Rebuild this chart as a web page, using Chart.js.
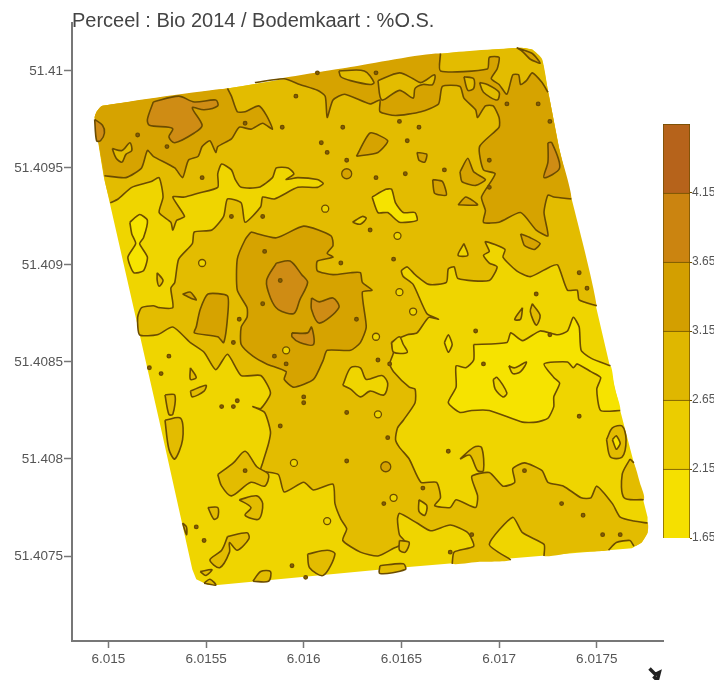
<!DOCTYPE html>
<html>
<head>
<meta charset="utf-8">
<title>Bodemkaart</title>
<script src="https://cdn.jsdelivr.net/npm/chart.js@4/dist/chart.umd.min.js"></script>
<style>
  html, body { margin: 0; background: #fff; overflow: hidden; }
  canvas { position: absolute; filter: blur(0.5px); }
  #kaart { left: 0; top: 0; }
  #legenda { left: 650px; top: 100px; }
</style>
</head>
<body>
<canvas id="kaart" width="714" height="680"></canvas>
<canvas id="legenda" width="64" height="460"></canvas>
<script>
// Points are [lon, lat] in 1e-5 degrees above 6.01 / 51.40.
// A third item 1 means the point lies on the field edge, so no contour is drawn there.
const titel = "Perceel : Bio 2014 / Bodemkaart : %O.S.";
const lonTicks = [6.015, 6.0155, 6.016, 6.0165, 6.017, 6.0175];
const latTicks = [51.4075, 51.408, 51.4085, 51.409, 51.4095, 51.41];
const levels = [1.65, 2.15, 2.65, 3.15, 3.65, 4.15, 4.65];
const bandColors = ["#f5e000", "#ebcd00", "#dfb700", "#d39f00", "#cb8410", "#b6631b"];
const fieldColors = ["#f6e300", "#efd500", "#e3bc00", "#d6a300", "#cf8c14"];

const fieldEdge = [[493,976],[494,979],[497,982],[561,991],[671,1009],[711,1012],[717,1011],[722,1006],[725,990],[731,959],[762,825],[769,798],[776,770],[776,762],[773,757],[768,754],[649,744],[556,735],[551,735],[545,738],[543,743],[526,820],[498,944]];

const band3Main = [[501,932],[505,934],[512,940],[522,943],[526,945],[528,935],[526,927],[532,922],[533,918],[535,923],[539,925],[533,935],[539,935],[546,937],[556,940],[556,947],[558,952],[563,949],[565,944],[568,940],[577,940],[584,945],[586,950],[592,950],[595,947],[591,944],[597,945],[607,944],[610,942],[607,940],[597,940],[585,934],[579,935],[578,930],[570,922],[568,932],[561,934],[559,925],[553,918],[544,917],[543,911],[536,903],[534,891],[532,888],[533,878],[526,878],[523,879],[517,878],[515,873],[516,864],[525,864],[533,868],[542,860],[549,855],[555,846],[561,854],[568,843],[578,843],[583,834],[578,826],[574,827],[580,824],[583,814],[582,808],[579,798],[578,794],[587,792],[590,783],[600,788],[605,784],[615,787],[616,777],[619,769],[622,764],[620,758],[629,752],[638,750],[646,754],[652,757],[649,761],[648,769],[649,772],[658,767],[665,763],[675,766],[684,762],[687,755],[677,752],[676,746],[690,747,1],[706,748],[695,756],[707,770],[712,762],[723,756],[723,750],[739,752,1],[756,753],[760,757],[767,758],[769,755],[773,757,1],[776,762,1],[776,767],[769,768],[762,770],[758,777],[750,786],[747,780],[742,780],[733,786],[725,788],[722,794],[713,798],[707,795],[708,788],[702,786],[695,793],[686,791],[689,781],[688,775],[678,779],[675,775],[667,776],[670,780],[668,788],[660,788],[654,800],[649,806],[647,810],[648,816],[651,820],[657,829],[657,836],[654,837],[646,845],[644,849],[646,855],[645,860],[653,864],[658,865],[664,873],[669,872],[663,875],[656,890],[651,894],[650,897],[653,899],[657,895],[664,890],[673,891],[674,898],[677,899],[679,893],[695,892],[699,899],[695,901],[692,905],[695,907],[693,912],[703,908],[702,904],[709,897],[716,894],[726,899],[730,900],[735,887],[740,887],[741,882],[750,879],[731,959,1],[725,990,1],[722,1006,1],[717,1011,1],[711,1012,1],[671,1009,1],[561,991,1],[497,982,1],[494,979,1],[493,976,1],[498,944,1]];

const band3Islands = [
  [[556,792],[564,798],[570,804],[576,796],[582,792],[580,786],[573,788],[563,781],[558,786]],
  [[567,779],[576,781],[579,777],[577,769],[570,771],[573,775]],
  [[551,775],[556,775],[556,770],[554,769]],
  [[529,820],[537,821],[538,810],[534,800],[531,805]],
  [[561,760],[571,762],[572,759],[566,753],[562,757],[562,752],[557,744],[552,748],[558,753]],
  [[547,742],[553,743],[550,740]],
  [[574,737],[578,742],[583,742],[582,737]],
  [[549,736],[552,738],[555,735]],
  [[602,751],[612,753],[616,751],[610,740],[603,744]],
  [[639,745],[651,746],[652,743],[639,741]],
  [[542,847],[545,842],[542,841]],
  [[542,835],[550,838],[549,835],[543,832]],
  [[525,896],[528,892],[526,889],[525,892]],
  [[529,833],[534,833],[533,823],[531,823]],
  [[538,767],[540,765],[540,761]],
  [[649,758],[654,757],[652,752],[649,753]],
  [[680,800],[687,806],[691,806],[692,794],[689,794],[685,802]],
  [[755,810],[758,816],[763,817],[765,810],[763,801],[757,801]],
  [[767,800],[769,798],[772,788,1],[774,779],[764,780],[763,792]]
];

const band2Holes = [
  [[620,838],[624,847],[629,847],[632,841],[640,843],[643,839],[641,833],[634,835],[629,832],[624,836]],
  [[625,922],[630,925],[632,924],[629,921]],
  [[645,860],[649,863],[651,859],[653,855],[646,855]],
  [[659,779],[663,776],[662,771],[659,773]],
  [[682,911],[684,905],[679,905]]
];

const band1Blobs = [
  [[511,922],[516,926],[520,923],[518,914],[516,911],[520,904],[518,897],[513,896],[510,904],[514,911],[512,916]],
  [[635,935],[642,939],[645,939],[647,932],[651,927],[657,927],[658,923],[649,922],[643,927],[638,927]],
  [[687,859],[704,860],[706,865],[712,861],[721,866],[730,864],[735,866],[738,873],[741,868],[742,856],[747,852],[757,848],[759,837,1],[762,825],[752,825],[750,836],[752,842],[747,845],[740,849],[738,847],[735,850],[723,849],[728,842],[731,839],[728,832],[728,827],[725,821],[719,819],[712,819],[695,825],[686,825],[680,824],[674,829],[678,837],[678,848],[683,847],[687,851]],
  [[672,860],[674,864],[676,859],[674,855]],
  [[758,810],[760,812],[762,808],[760,805]]
];

const band2InBlobs = [
  [[705,848],[708,847],[714,850],[711,845],[707,844]],
  [[697,841],[699,842],[704,834],[702,832],[698,836]]
];

const band3Slivers = [
  [[717,880],[721,874],[719,869],[716,876]],
  [[712,878],[711,872],[708,872]]
];

const band4Areas = [
  [[498,946],[509,945],[517,950],[520,959],[523,956],[534,950],[538,945],[541,954],[546,956],[548,961],[552,964],[555,958],[556,961],[563,965],[567,971],[573,970],[579,973],[584,970],[581,977],[577,982],[570,979],[566,979],[563,987],[561,991],[497,982,1],[494,979,1],[493,976,1]],
  [[575,994],[590,996],[598,993],[607,990],[611,987],[612,976],[615,985],[621,988],[634,983],[639,985],[639,979],[647,977],[660,979],[669,983],[671,992],[680,992],[682,986],[688,980],[689,976],[693,982],[697,982],[700,976],[700,971],[690,961],[692,949],[698,947],[691,935],[693,928],[692,922],[700,922],[711,927],[719,918],[725,915],[723,927],[725,936],[728,935],[737,934],[731,959,1],[725,989],[722,994],[717,999],[714,995],[711,993],[710,998],[707,998],[704,988],[700,993],[696,996],[699,1001],[700,1007],[695,1007],[694,1001],[670,1000],[670,1009],[624,1002,1]],
  [[573,917],[586,914],[600,920],[614,915],[615,910],[612,906],[615,904],[607,902],[607,897],[615,895],[624,896],[629,896],[630,891],[635,887],[630,886],[632,868],[629,860],[624,856],[612,856],[610,851],[605,841],[595,837],[590,841],[591,845],[581,849],[574,853],[568,859],[568,868],[571,873],[571,878],[566,887],[566,903],[570,913]],
  [[545,868],[547,877],[551,885],[561,884],[561,873],[559,860],[556,863],[544,865]],
  [[709,1012],[717,1009],[721,1004],[716,1006],[712,1010]],
  [[627,956],[634,968],[643,964],[638,958]],
  [[658,958],[663,957],[662,953],[659,954]],
  [[666,944],[671,943],[673,936],[667,937]],
  [[680,948],[684,955],[687,948],[693,944],[688,941],[681,943]],
  [[679,931],[683,935],[689,931]],
  [[711,916],[716,914],[721,911],[718,908],[713,910]],
  [[538,885],[542,886],[545,882],[542,883]]
];

const band3InBand4 = [
  [[502,960],[507,959],[511,963],[512,959],[509,957],[507,953],[504,955]],
  [[618,1000],[631,1000],[636,994],[634,993],[624,995],[619,997]],
  [[638,995],[649,999],[656,996],[660,994],[667,998],[666,993],[661,993],[657,991],[656,986],[649,990],[640,985]],
  [[682,997],[687,996],[687,991],[684,990]],
  [[690,994],[694,993],[700,989],[699,985],[692,989]]
];

const band5Areas = [
  [[523,984],[520,975],[521,972],[531,971],[533,970],[531,966],[534,963],[544,968],[548,972],[543,981],[549,980],[556,982],[555,985],[544,984],[536,987]],
  [[493,975],[497,972],[498,968],[496,964],[494,964]],
  [[725,963],[727,963],[731,950],[723,945],[725,953]],
  [[586,901],[593,902],[599,895],[602,891],[598,882],[595,875],[587,877],[583,883],[581,892]],
  [[604,883],[608,881],[615,883],[618,878],[608,870],[604,877]],
  [[594,865],[602,865],[604,868],[605,859],[598,860],[594,863]]
];

const lightRings = [[595,798],[649,886],[648,915],[637,863],[548,901],[638,823],[612,768],[646,780],[611,929],[656,876],[591,856]];
const darkRings = [[642,796],[622,947]];
const spots = [[515,967],[530,961],[589,971],[570,973],[596,987],[548,945],[609,963],[607,999],[579,925],[563,925],[637,999],[649,974],[620,971],[659,971],[653,964],[612,958],[622,954],[637,945],[652,947],[672,949],[634,918],[695,954],[695,940],[720,983],[726,974],[704,983],[579,880],[564,860],[531,853],[521,847],[527,844],[567,872],[585,853],[591,849],[619,901],[580,907],[588,892],[600,832],[566,830],[646,903],[719,885],[741,896],[745,888],[688,866],[638,851],[644,849],[627,872],[692,849],[726,864],[588,817],[622,824],[622,799],[643,811],[641,777],[570,794],[545,765],[549,758],[594,745],[601,739],[558,827],[564,827],[600,829],[674,804],[741,822],[732,777],[743,771],[753,761],[762,761],[713,794],[661,785],[686,761],[675,752]];
const northMark = [[777,692],[780,689],[782,690],[781,686],[779,688]];

const contourColor = "#6b4c00";
const toPoint = p => ({ x: 6.01 + p[0] / 1e5, y: 51.4 + p[1] / 1e5 });
const kaartSets = [];

function addShape(ring, color, tension) {
    const closed = ring.concat([ring[0]]);
    kaartSets.push({
        data: closed.map(toPoint), showLine: true, fill: "shape",
        backgroundColor: color, borderWidth: 0, pointRadius: 0, tension: tension
    });
    // contour on top, broken where the shape follows the field edge
    kaartSets.push({
        data: closed.map(p => p[2] ? { x: NaN, y: NaN } : toPoint(p)),
        showLine: true, fill: false, borderColor: contourColor, borderWidth: 1.6,
        pointRadius: 0, tension: tension, borderJoinStyle: "round"
    });
}

function addMarks(list, radius, fillColor) {
    kaartSets.push({
        data: list.map(toPoint), showLine: false, pointRadius: radius,
        backgroundColor: fillColor, borderColor: contourColor, borderWidth: 1.3
    });
}

kaartSets.push({
    data: fieldEdge.concat([fieldEdge[0]]).map(toPoint), showLine: true, fill: "shape",
    backgroundColor: fieldColors[1], borderWidth: 0, pointRadius: 0, tension: 0
});
addShape(band3Main, fieldColors[2], 0.2);
band3Islands.forEach(r => addShape(r, fieldColors[2], 0.3));
band2Holes.forEach(r => addShape(r, fieldColors[1], 0.3));
band1Blobs.forEach(r => addShape(r, fieldColors[0], 0.2));
band2InBlobs.forEach(r => addShape(r, fieldColors[1], 0.3));
band3Slivers.forEach(r => addShape(r, fieldColors[2], 0.3));
band4Areas.forEach(r => addShape(r, fieldColors[3], 0.2));
band3InBand4.forEach(r => addShape(r, fieldColors[2], 0.3));
band5Areas.forEach(r => addShape(r, fieldColors[4], 0.3));
addMarks(lightRings, 3.5, fieldColors[1]);
addMarks(darkRings, 5, fieldColors[3]);
addMarks(spots, 1.8, "#8a5f00");
kaartSets.push({
    data: northMark.map(toPoint), showLine: true, fill: false, clip: false,
    borderColor: "#222", borderWidth: 3.5, pointRadius: 0
});
kaartSets.reverse(); // first dataset is painted last in Chart.js

const axisGrey = "#777";
const labelGrey = "#555";

new Chart(document.getElementById("kaart"), {
    type: "scatter",
    data: { datasets: kaartSets },
    options: {
        responsive: false,
        animation: false,
        layout: { padding: { left: 0, right: 51, top: 0, bottom: 0 } },
        plugins: {
            legend: { display: false },
            tooltip: { enabled: false },
            title: {
                display: true, text: titel, align: "start", fullSize: false,
                color: "#444", font: { family: "Liberation Sans", size: 20, weight: "normal" },
                padding: { top: 9, bottom: -10 }
            }
        },
        scales: {
            x: {
                type: "linear", min: 6.014814, max: 6.017839,
                afterBuildTicks: s => { s.ticks = lonTicks.map(v => ({ value: v })); },
                afterFit: s => { s.height = 39; },
                border: { color: axisGrey, width: 2 },
                grid: { drawOnChartArea: false, tickLength: 7, tickColor: axisGrey, tickWidth: 1.5 },
                ticks: {
                    autoSkip: false, maxRotation: 0, color: labelGrey, padding: 3,
                    font: { family: "Liberation Sans", size: 13.5 },
                    callback: v => String(v)
                }
            },
            y: {
                type: "linear", min: 51.407062, max: 51.410247,
                afterBuildTicks: s => { s.ticks = latTicks.map(v => ({ value: v })); },
                afterFit: s => { s.width = 72; },
                border: { color: axisGrey, width: 2 },
                grid: { drawOnChartArea: false, tickLength: 8, tickColor: axisGrey, tickWidth: 1.5 },
                ticks: {
                    autoSkip: false, color: labelGrey, padding: 1,
                    font: { family: "Liberation Sans", size: 13.5 },
                    callback: v => String(v)
                }
            }
        }
    }
});

new Chart(document.getElementById("legenda"), {
    type: "bar",
    data: {
        labels: [""],
        datasets: bandColors.map((c, i) => ({
            data: [[levels[i], levels[i + 1]]],
            backgroundColor: c, borderColor: contourColor, borderWidth: 1,
            barPercentage: 1, categoryPercentage: 1, grouped: false
        }))
    },
    options: {
        responsive: false,
        animation: false,
        layout: { padding: { left: 13, right: 0, top: 24, bottom: 22 } },
        plugins: { legend: { display: false }, tooltip: { enabled: false } },
        scales: {
            x: { display: false },
            y: {
                position: "right", min: levels[0], max: levels[levels.length - 1],
                afterBuildTicks: s => { s.ticks = levels.slice(0, -1).map(v => ({ value: v })); },
                afterFit: s => { s.width = 24; },
                border: { display: false },
                grid: { drawOnChartArea: false, tickLength: 2, tickColor: contourColor },
                ticks: {
                    autoSkip: false, color: labelGrey, padding: 0,
                    font: { family: "Liberation Sans", size: 12 },
                    callback: v => v.toFixed(2)
                }
            }
        }
    }
});
</script>
</body>
</html>
